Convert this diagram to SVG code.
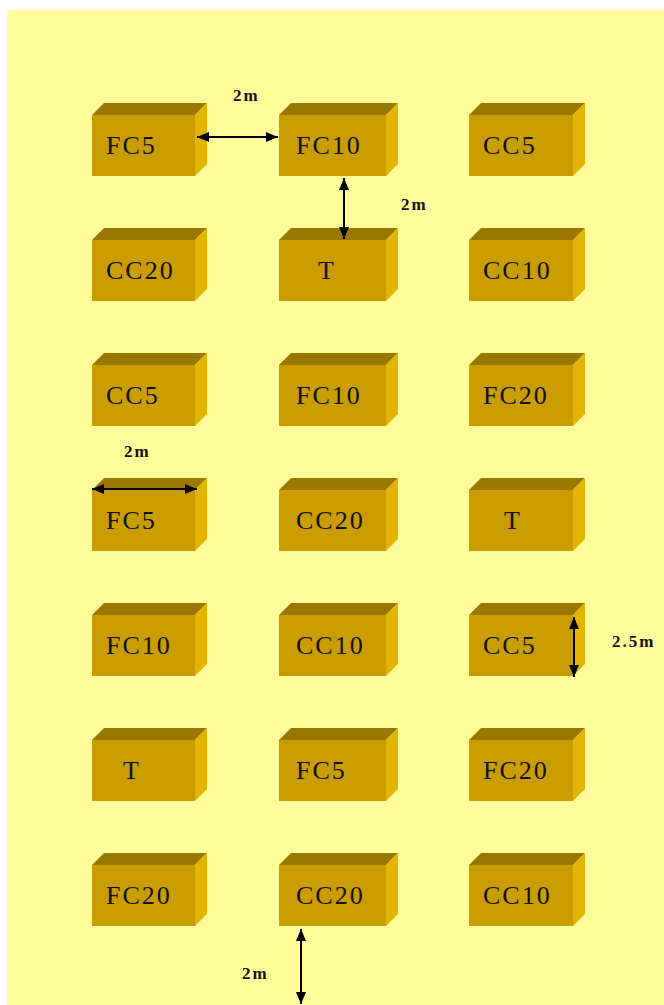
<svg xmlns="http://www.w3.org/2000/svg" width="664" height="1005" viewBox="0 0 664 1005">
<style>
.bg{fill:#FFFC99}
.top{fill:#9A7700}
.front{fill:#C99C00}
.side{fill:#E3B400}
.lbl{font-family:"Liberation Serif","Times New Roman",serif;font-size:26px;fill:#111;letter-spacing:2px}
.dim{font-family:"Liberation Serif","DejaVu Serif",serif;font-size:17px;font-weight:bold;fill:#111;letter-spacing:2px}
.arr{stroke:#000;stroke-width:2;fill:none;marker-start:url(#ah);marker-end:url(#ah)}
</style>
<defs>
<marker id="ah" markerUnits="userSpaceOnUse" markerWidth="12" markerHeight="10" refX="12" refY="5" orient="auto-start-reverse" viewBox="0 0 12 10">
<path d="M0,0 L12,5 L0,10 z" fill="#000"/>
</marker>
</defs>
<rect class="bg" x="7" y="10" width="657" height="995"/>

<!-- Row 1 -->
<g id="r1c1"><polygon class="top" points="92,115 104,103 207,103 195,115"/><rect class="front" x="92" y="115" width="103" height="61"/><polygon class="side" points="195,115 207,103 207,164 195,176"/><text class="lbl" x="106" y="154">FC5</text></g>
<g id="r1c2"><polygon class="top" points="279,115 291,103 398,103 386,115"/><rect class="front" x="279" y="115" width="107" height="61"/><polygon class="side" points="386,115 398,103 398,164 386,176"/><text class="lbl" x="296" y="154">FC10</text></g>
<g id="r1c3"><polygon class="top" points="469,115 481,103 585,103 573,115"/><rect class="front" x="469" y="115" width="104" height="61"/><polygon class="side" points="573,115 585,103 585,164 573,176"/><text class="lbl" x="483" y="154">CC5</text></g>

<!-- Row 2 -->
<g id="r2c1"><polygon class="top" points="92,240 104,228 207,228 195,240"/><rect class="front" x="92" y="240" width="103" height="61"/><polygon class="side" points="195,240 207,228 207,289 195,301"/><text class="lbl" x="106" y="279">CC20</text></g>
<g id="r2c2"><polygon class="top" points="279,240 291,228 398,228 386,240"/><rect class="front" x="279" y="240" width="107" height="61"/><polygon class="side" points="386,240 398,228 398,289 386,301"/><text class="lbl" x="318" y="279">T</text></g>
<g id="r2c3"><polygon class="top" points="469,240 481,228 585,228 573,240"/><rect class="front" x="469" y="240" width="104" height="61"/><polygon class="side" points="573,240 585,228 585,289 573,301"/><text class="lbl" x="483" y="279">CC10</text></g>

<!-- Row 3 -->
<g id="r3c1"><polygon class="top" points="92,365 104,353 207,353 195,365"/><rect class="front" x="92" y="365" width="103" height="61"/><polygon class="side" points="195,365 207,353 207,414 195,426"/><text class="lbl" x="106" y="404">CC5</text></g>
<g id="r3c2"><polygon class="top" points="279,365 291,353 398,353 386,365"/><rect class="front" x="279" y="365" width="107" height="61"/><polygon class="side" points="386,365 398,353 398,414 386,426"/><text class="lbl" x="296" y="404">FC10</text></g>
<g id="r3c3"><polygon class="top" points="469,365 481,353 585,353 573,365"/><rect class="front" x="469" y="365" width="104" height="61"/><polygon class="side" points="573,365 585,353 585,414 573,426"/><text class="lbl" x="483" y="404">FC20</text></g>

<!-- Row 4 -->
<g id="r4c1"><polygon class="top" points="92,490 104,478 207,478 195,490"/><rect class="front" x="92" y="490" width="103" height="61"/><polygon class="side" points="195,490 207,478 207,539 195,551"/><text class="lbl" x="106" y="529">FC5</text></g>
<g id="r4c2"><polygon class="top" points="279,490 291,478 398,478 386,490"/><rect class="front" x="279" y="490" width="107" height="61"/><polygon class="side" points="386,490 398,478 398,539 386,551"/><text class="lbl" x="296" y="529">CC20</text></g>
<g id="r4c3"><polygon class="top" points="469,490 481,478 585,478 573,490"/><rect class="front" x="469" y="490" width="104" height="61"/><polygon class="side" points="573,490 585,478 585,539 573,551"/><text class="lbl" x="504" y="529">T</text></g>

<!-- Row 5 -->
<g id="r5c1"><polygon class="top" points="92,615 104,603 207,603 195,615"/><rect class="front" x="92" y="615" width="103" height="61"/><polygon class="side" points="195,615 207,603 207,664 195,676"/><text class="lbl" x="106" y="654">FC10</text></g>
<g id="r5c2"><polygon class="top" points="279,615 291,603 398,603 386,615"/><rect class="front" x="279" y="615" width="107" height="61"/><polygon class="side" points="386,615 398,603 398,664 386,676"/><text class="lbl" x="296" y="654">CC10</text></g>
<g id="r5c3"><polygon class="top" points="469,615 481,603 585,603 573,615"/><rect class="front" x="469" y="615" width="104" height="61"/><polygon class="side" points="573,615 585,603 585,664 573,676"/><text class="lbl" x="483" y="654">CC5</text></g>

<!-- Row 6 -->
<g id="r6c1"><polygon class="top" points="92,740 104,728 207,728 195,740"/><rect class="front" x="92" y="740" width="103" height="61"/><polygon class="side" points="195,740 207,728 207,789 195,801"/><text class="lbl" x="123" y="779">T</text></g>
<g id="r6c2"><polygon class="top" points="279,740 291,728 398,728 386,740"/><rect class="front" x="279" y="740" width="107" height="61"/><polygon class="side" points="386,740 398,728 398,789 386,801"/><text class="lbl" x="296" y="779">FC5</text></g>
<g id="r6c3"><polygon class="top" points="469,740 481,728 585,728 573,740"/><rect class="front" x="469" y="740" width="104" height="61"/><polygon class="side" points="573,740 585,728 585,789 573,801"/><text class="lbl" x="483" y="779">FC20</text></g>

<!-- Row 7 -->
<g id="r7c1"><polygon class="top" points="92,865 104,853 207,853 195,865"/><rect class="front" x="92" y="865" width="103" height="61"/><polygon class="side" points="195,865 207,853 207,914 195,926"/><text class="lbl" x="106" y="904">FC20</text></g>
<g id="r7c2"><polygon class="top" points="279,865 291,853 398,853 386,865"/><rect class="front" x="279" y="865" width="107" height="61"/><polygon class="side" points="386,865 398,853 398,914 386,926"/><text class="lbl" x="296" y="904">CC20</text></g>
<g id="r7c3"><polygon class="top" points="469,865 481,853 585,853 573,865"/><rect class="front" x="469" y="865" width="104" height="61"/><polygon class="side" points="573,865 585,853 585,914 573,926"/><text class="lbl" x="483" y="904">CC10</text></g>

<g id="connectors">
<line class="arr" x1="197" y1="137" x2="278" y2="137"/>
<line class="arr" x1="344" y1="178" x2="344" y2="239"/>
<line class="arr" x1="92" y1="489" x2="197" y2="489"/>
<line class="arr" x1="574" y1="617" x2="574" y2="677"/>
<line class="arr" x1="301" y1="929" x2="301" y2="1004"/>
<text class="dim" x="233" y="101">2m</text>
<text class="dim" x="401" y="210">2m</text>
<text class="dim" x="124" y="457">2m</text>
<text class="dim" x="612" y="647">2.5m</text>
<text class="dim" x="242" y="979">2m</text>
</g>
</svg>
